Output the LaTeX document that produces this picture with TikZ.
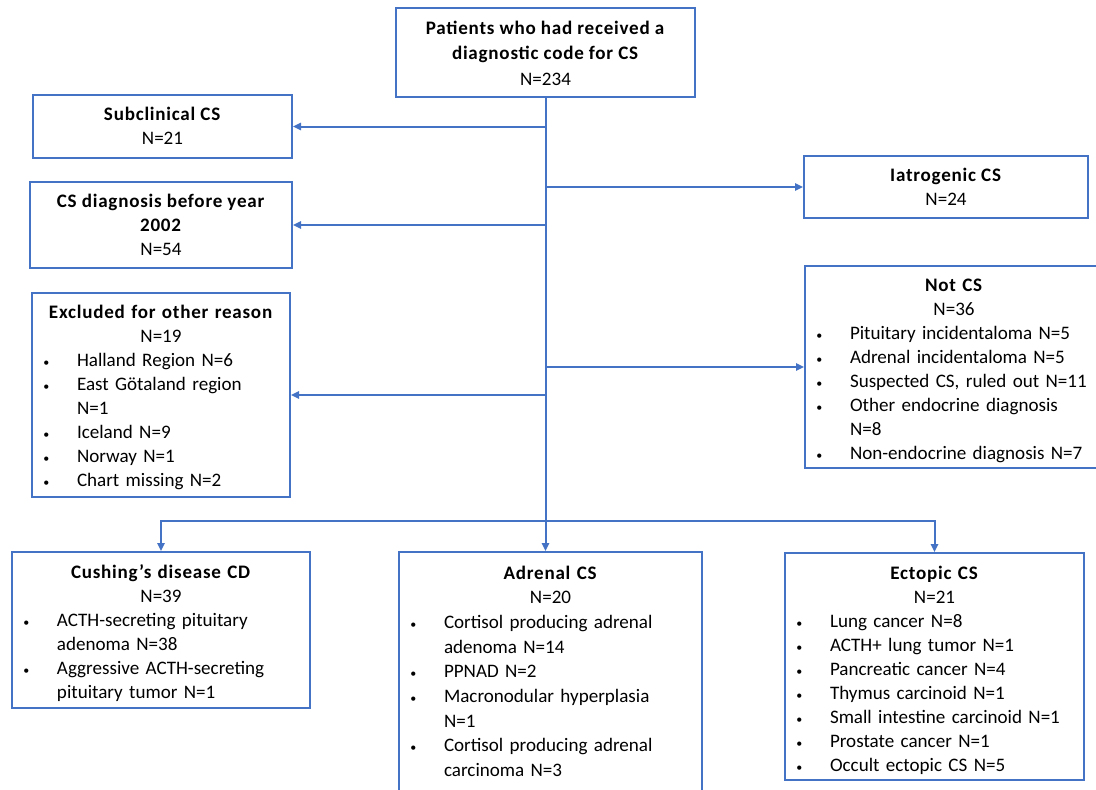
\documentclass[tikz,border=0pt]{standalone}
\usepackage{fontspec}
\setmainfont{Carlito}[BoldFeatures={LetterSpace=4}]
\usetikzlibrary{arrows.meta}
\definecolor{lc}{HTML}{4472C4}
\newcommand{\itm}[1]{\par\noindent\makebox[33.75pt][l]{\hspace{8.5pt}{\fontsize{9}{9}\selectfont\textbullet}}#1}
\newcommand{\cnt}[1]{\par\noindent\hspace*{33.75pt}#1}
\newcommand{\hd}[2]{{\centering\textbf{#1}\\#2\par}}
\begin{document}
\begin{tikzpicture}[x=0.75pt,y=-0.75pt,
  box/.style 2 args={draw=lc,line width=1.5pt,minimum width=#1*0.75pt,minimum height=#2*0.75pt,inner sep=0pt},
  txt/.style={text width=#1*0.75pt,inner sep=0pt,align=left,anchor=north,font=\fontsize{14.3}{18}\selectfont},
  ctxt/.style={inner sep=0pt,align=center,anchor=north,font=\fontsize{14.3}{18}\selectfont},
  ln/.style={draw=lc,line width=1.5pt},
  arr/.style={draw=lc,line width=1.5pt,-{Triangle[length=6pt,width=5.5pt]}}]
\useasboundingbox (0,0) rectangle (1096,789);
\clip (0,0) rectangle (1096,789);
% boxes
\node[box={299}{89}] (top) at (545.5,52.5) {};
\node[box={259}{63}] (sub) at (162.5,126.5) {};
\node[box={262}{86}] (cs02) at (161,225) {};
\node[box={258}{204}] (excl) at (161,395) {};
\node[box={284}{62}] (iat) at (946,187) {};
\node[box={298}{202}] (notcs) at (954,367) {};
\node[box={298}{156}] (cush) at (161,630) {};
\node[box={303}{250}] (adr) at (550.5,677) {};
\node[box={299}{227}] (ect) at (934.5,666.5) {};
% texts
\node[ctxt,font=\fontsize{14.3}{19.2}\selectfont] (topT) at ([yshift=-10pt]top.north) {\textbf{Patients who had received a}\\\textbf{diagnostic code for CS}\\N=234};
\node[ctxt] (subT) at ([yshift=-10pt]sub.north) {\textbf{Subclinical CS}\\N=21};
\node[ctxt] (cs02T) at ([yshift=-10pt]cs02.north) {\textbf{CS diagnosis before year}\\\textbf{2002}\\N=54};
\node[ctxt] (iatT) at ([yshift=-10pt]iat.north) {\textbf{Iatrogenic CS}\\N=24};
\node[txt=258] (exclT) at ([yshift=-10pt]excl.north) {\hd{Excluded for other reason}{N=19}\itm{Halland Region N=6}\itm{East Götaland region}\cnt{N=1}\itm{Iceland N=9}\itm{Norway N=1}\itm{Chart missing N=2}};
\node[txt=298] (notcsT) at ([yshift=-10pt]notcs.north) {\hd{Not CS}{N=36}\itm{Pituitary incidentaloma N=5}\itm{Adrenal incidentaloma N=5}\itm{Suspected CS, ruled out N=11}\itm{Other endocrine diagnosis}\cnt{N=8}\itm{Non-endocrine diagnosis N=7}};
\node[txt=298] (cushT) at ([yshift=-10pt]cush.north) {\hd{Cushing’s disease CD}{N=39}\itm{ACTH-secreting pituitary}\cnt{adenoma N=38}\itm{Aggressive ACTH-secreting}\cnt{pituitary tumor N=1}};
\node[txt=303,font=\fontsize{14.3}{18.5}\selectfont] (adrT) at ([yshift=-11pt]adr.north) {\hd{Adrenal CS}{N=20}\itm{Cortisol producing adrenal}\cnt{adenoma N=14}\itm{PPNAD N=2}\itm{Macronodular hyperplasia}\cnt{N=1}\itm{Cortisol producing adrenal}\cnt{carcinoma N=3}};
\node[txt=299] (ectT) at ([yshift=-10.5pt]ect.north) {\hd{Ectopic CS}{N=21}\itm{Lung cancer N=8}\itm{ACTH+ lung tumor N=1}\itm{Pancreatic cancer N=4}\itm{Thymus carcinoid N=1}\itm{Small intestine carcinoid N=1}\itm{Prostate cancer N=1}\itm{Occult ectopic CS N=5}};
% connectors
\coordinate (hub) at (545.5,521);
\draw[ln] (top.south) -- (hub);
\draw[arr] (top.south |- sub.east) -- (sub.east);
\draw[arr] (top.south |- cs02.east) -- (cs02.east);
\draw[arr] (top.south |- excl.east) -- (excl.east);
\draw[arr] (top.south |- iat.west) -- (iat.west);
\draw[arr] (top.south |- notcs.west) -- (notcs.west);
\draw[arr] (hub) -| (cush.north);
\draw[arr] (hub) -| (ect.north);
\draw[arr] (hub) -- (hub |- adr.north);
\end{tikzpicture}
\end{document}
